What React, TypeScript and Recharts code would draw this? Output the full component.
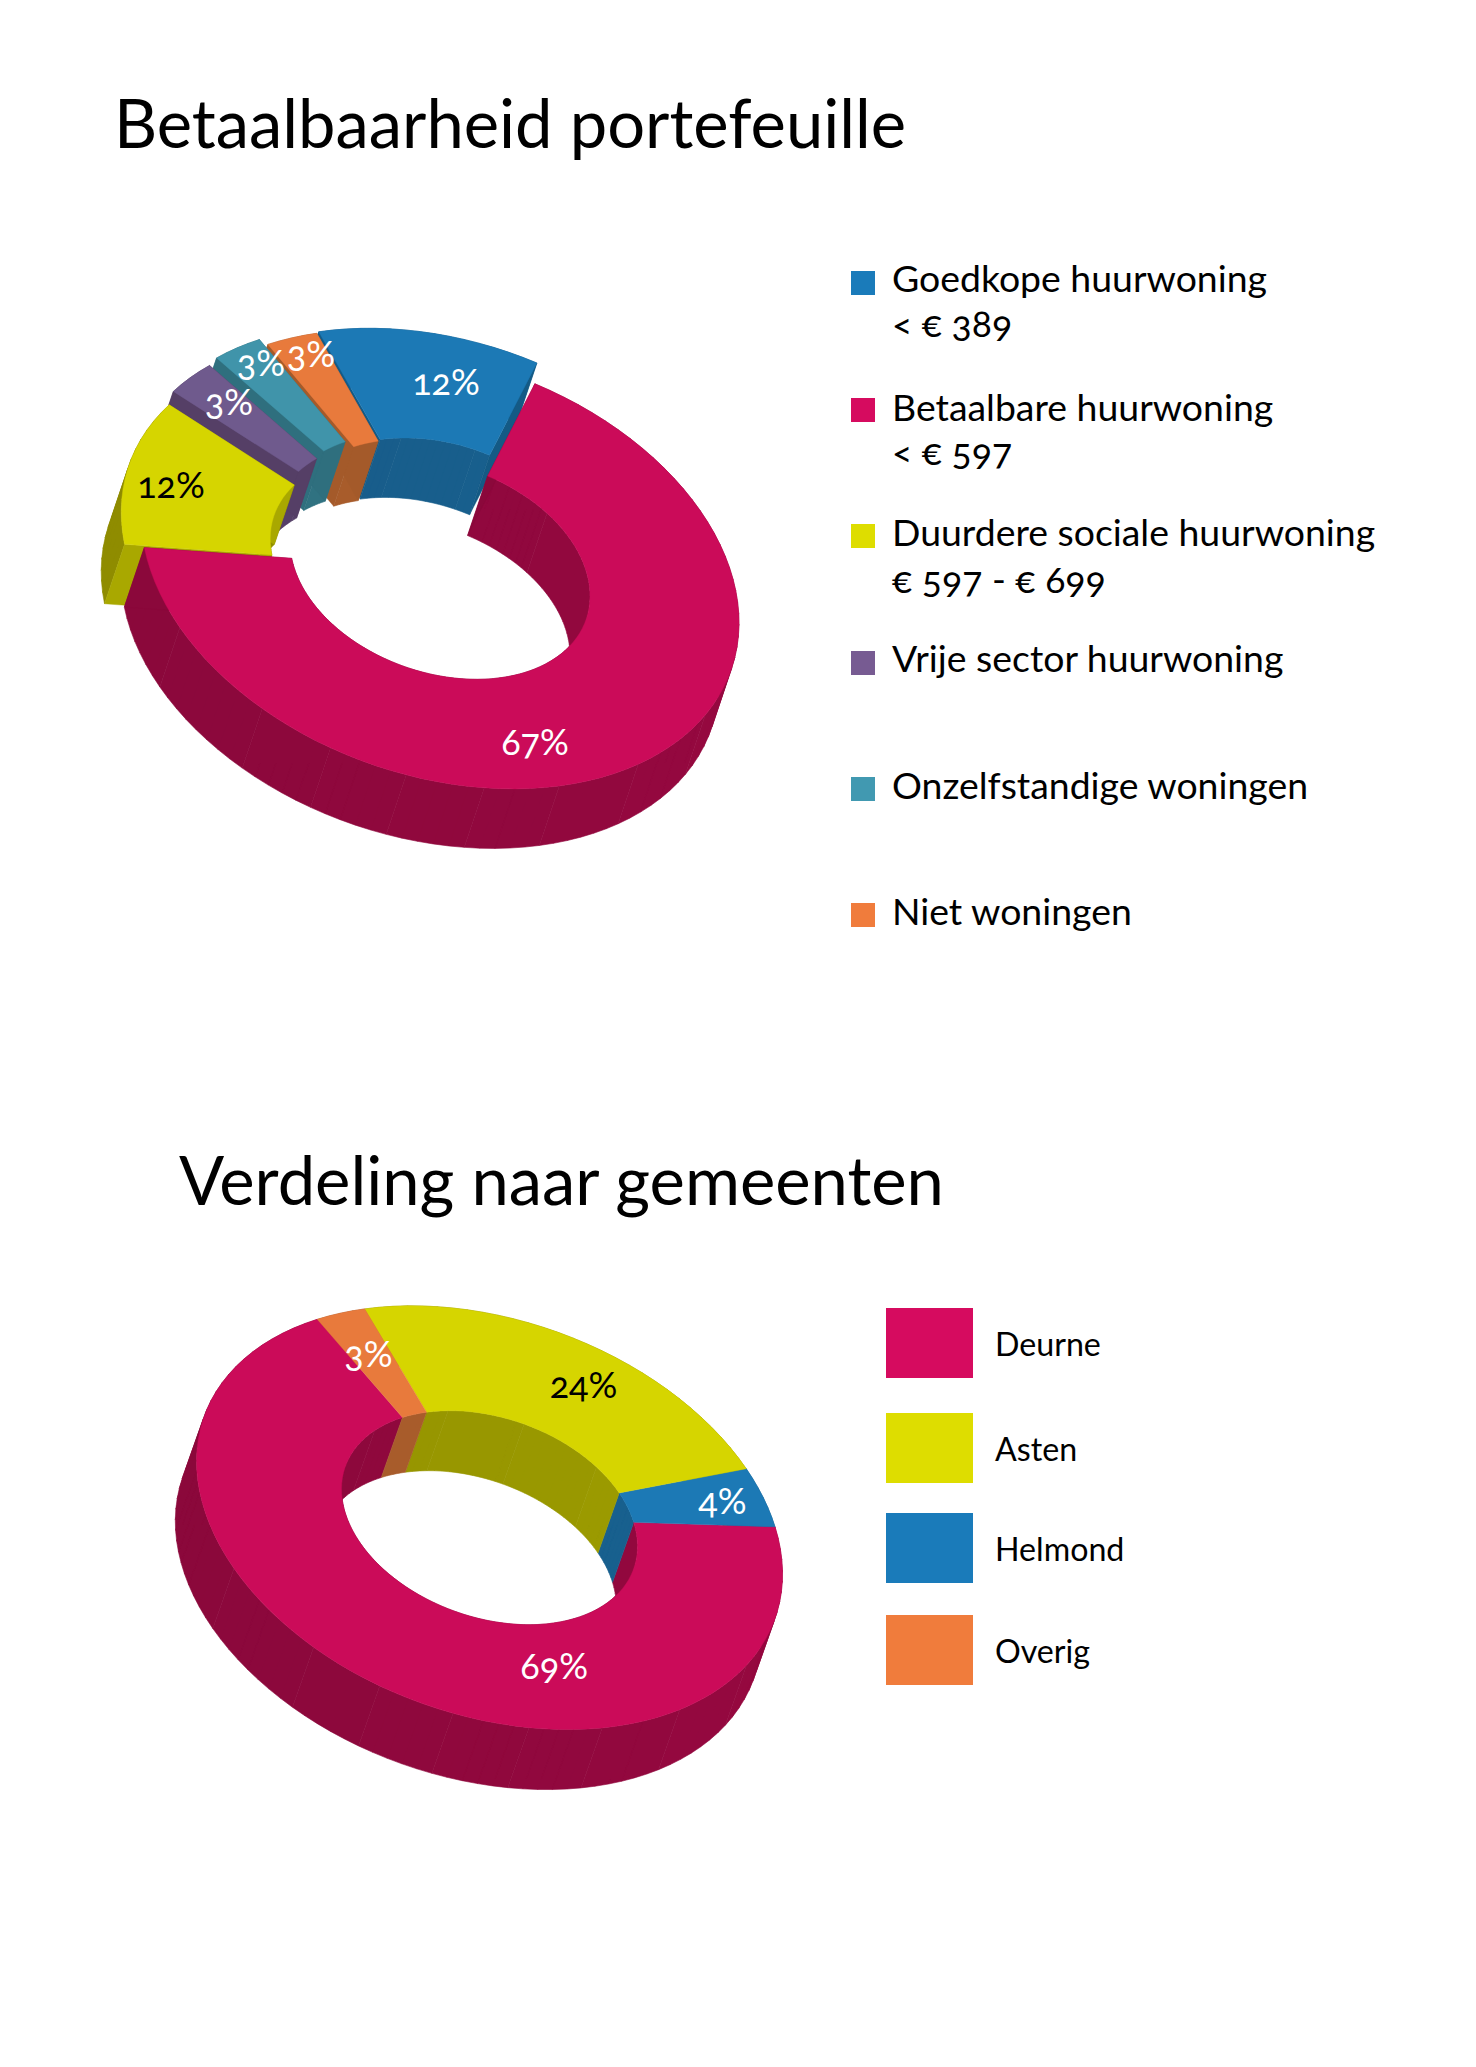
import { PieChart, Pie } from "recharts";

const FONT = "Lato, sans-serif";

// first chart, counter clockwise from the top right so that later slices paint over earlier ones
const portfolioNames = ["Goedkope huurwoning", "Niet woningen", "Onzelfstandige woningen", "Vrije sector huurwoning", "Duurdere sociale huurwoning", "Betaalbare huurwoning"];
const portfolioValues = [11.9, 3, 3, 3.1, 11.51, 67.49];
const portfolioTop = ["#1c79b5", "#e87a3c", "#4094aa", "#6f5a8d", "#d6d500", "#cb0b59"];
const portfolioWall = ["#175b87", "#a45a2a", "#2f6f7e", "#553f66", "#8f8c00", "#8b083b"];
const portfolioSide = ["#145a85", "#a45a2a", "#2f6f7e", "#553f66", "#a9a800", "#8b083b"];
const portfolioLabel = ["#fff", "#fff", "#fff", "#fff", "#000", "#fff"];
const portfolioShift = [[2, -20.8], [0, -19.3], [-8.5, -24.2], [-15.6, -16.7], [-19.8, -3.3], [0, 0]];
const portfolioLabelAt = [[6, -188], [-129, -216.5], [-179, -207], [-211, -168], [-269, -85], [95, 172]];

const cityNames = ["Deurne", "Helmond", "Asten", "Overig"];
const cityValues = [68.6, 4.4, 24, 3];
const cityTop = ["#cb0b59", "#1c79b5", "#d6d500", "#e87a3c"];
const cityWall = ["#8b083b", "#175b87", "#939200", "#a45a2a"];
const cityLabel = ["#fff", "#fff", "#000", "#fff"];
const cityLabelAt = [[64.7, 147], [233, -18], [94, -134], [-121, -164.5]];

const legendOne = [
  { lines: ["Goedkope huurwoning", "< € 389"], color: "#1a7bba", box: 271, base: [292.6, 337.4] },
  { lines: ["Betaalbare huurwoning", "< € 597"], color: "#d60b5f", box: 398, base: [421.3, 465] },
  { lines: ["Duurdere sociale huurwoning", "€ 597 - € 699"], color: "#dedd00", box: 524.4, base: [546, 593] },
  { lines: ["Vrije sector huurwoning"], color: "#775b92", box: 651, base: [672] },
  { lines: ["Onzelfstandige woningen"], color: "#4199b1", box: 777, base: [799] },
  { lines: ["Niet woningen"], color: "#f07c3c", box: 903.3, base: [925] },
];
const legendTwo = [
  { name: "Deurne", color: "#d60b5f", box: 1308, base: 1356 },
  { name: "Asten", color: "#dedd00", box: 1413, base: 1461 },
  { name: "Helmond", color: "#1a7bba", box: 1513, base: 1561 },
  { name: "Overig", color: "#f07c3c", box: 1615, base: 1663 },
];

const RAD = Math.PI / 180;
const LEVELS = 8;

function mix(a: string, t: number) {
  // small shift towards lighter on the right side of the ring, in a few flat facets
  const n = parseInt(a.slice(1), 16);
  const f = 1 + 0.07 * t;
  const c = (v: number) => Math.min(255, Math.round(v * f));
  return `rgb(${c((n >> 16) & 255)},${c((n >> 8) & 255)},${c(n & 255)})`;
}

function solid(p: any, geo: any, part: "walls" | "top" | "both") {
  const [sx, sy] = geo.shift ? geo.shift[p.name] : [0, 0];
  const at = (a: number, r: number) => {
    const x = r * Math.cos(-a * RAD);
    const y = r * Math.sin(-a * RAD);
    return [p.cx + sx + x, p.cy + sy + x * geo.shear + y * geo.squash, x / p.outerRadius];
  };
  const steps = Math.max(2, Math.ceil(Math.abs(p.endAngle - p.startAngle) / 3));
  const angles = Array.from({ length: steps + 1 }, (_, i) => p.startAngle + ((p.endAngle - p.startAngle) * i) / steps);
  const d = (pt: number[]) => [pt[0] + geo.depth[0], pt[1] + geo.depth[1]];
  const poly = (pts: number[][]) => "M" + pts.map((q) => `${q[0].toFixed(2)},${q[1].toFixed(2)}`).join("L") + "Z";
  // quads of one path all wind the same way, so they add up under the nonzero rule
  const quad = (a: number[], b: number[]) => {
    const [da, db] = [d(a), d(b)];
    const area = (b[0] - a[0]) * (da[1] - a[1]) - (b[1] - a[1]) * (da[0] - a[0]);
    return poly(area > 0 ? [a, b, db, da] : [a, da, db, b]);
  };
  const out: any[] = [];
  if (part !== "top") {
    [p.outerRadius, p.innerRadius].forEach((r, ri) => {
      const bands: Record<number, string> = {};
      for (let i = 0; i < steps; i++) {
        const a = at(angles[i], r);
        const b = at(angles[i + 1], r);
        const lv = Math.round(((a[2] + 1) / 2) * LEVELS);
        bands[lv] = (bands[lv] || "") + quad(a, b);
      }
      Object.keys(bands).forEach((lv) => {
        const col = mix(p.wall, Number(lv) / LEVELS);
        out.push(<path key={`w${ri}-${lv}`} d={bands[Number(lv)]} fill={col} stroke={col} strokeWidth={0.6} />);
      });
    });
    if (geo.sides) {
      [p.startAngle, p.endAngle].forEach((a, i) => {
        const u = at(a, p.innerRadius);
        const v = at(a, p.outerRadius);
        out.push(<path key={`s${i}`} d={quad(u, v)} fill={p.side} stroke={p.side} strokeWidth={0.4} />);
      });
    }
  }
  if (part !== "walls") {
    const ring = [...angles.map((a) => at(a, p.outerRadius)), ...angles.slice().reverse().map((a) => at(a, p.innerRadius))];
    out.push(<path key="top" d={poly(ring)} fill={p.fill} stroke={p.fill} strokeWidth={0.4} />);
  }
  return <g>{out}</g>;
}

const portfolioData = portfolioNames.map((name, i) => ({
  name,
  value: portfolioValues[i],
  fill: portfolioTop[i],
  wall: portfolioWall[i],
  side: portfolioSide[i],
}));
const cityData = cityNames.map((name, i) => ({ name, value: cityValues[i], fill: cityTop[i], wall: cityWall[i] }));

const portfolioGeo = {
  shear: 0.1794,
  squash: 0.7133,
  depth: [-20, 59.5],
  sides: true,
  shift: Object.fromEntries(portfolioNames.map((n, i) => [n, portfolioShift[i]])),
};
const cityGeo = { shear: 0.1925, squash: 0.697, depth: [-21.2, 60], sides: false };

function percentLabel(colors: string[], spots: number[][]) {
  return (p: any) => (
    <text
      x={p.cx + spots[p.index][0]}
      y={p.cy + spots[p.index][1]}
      fill={colors[p.index]}
      fontFamily={FONT}
      fontSize={36}
      textAnchor="middle"
      dominantBaseline="central"
      style={{ fontFeatureSettings: '"onum"' }}
    >
      {Math.round(p.value)}%
    </text>
  );
}

// base is the text baseline in page pixels
const textStyle = (base: number, left: number, size: number): React.CSSProperties => ({
  position: "absolute",
  left,
  top: base - 0.387 * size,
  fontFamily: FONT,
  fontSize: size,
  lineHeight: 0,
  whiteSpace: "nowrap",
  color: "#000",
  fontFeatureSettings: '"onum"',
});

export default function App() {
  return (
    <div style={{ position: "absolute", left: 0, top: 0, width: 1476, height: 2067, background: "#fff", overflow: "hidden" }}>
      <div style={textStyle(148, 114, 66.9)}>Betaalbaarheid portefeuille</div>
      <div style={textStyle(1205, 179, 66.9)}>Verdeling naar gemeenten</div>

      <div style={{ position: "absolute", left: 60, top: 280 }}>
        <PieChart width={720} height={620}>
          <Pie
            data={portfolioData}
            dataKey="value"
            nameKey="name"
            cx={375}
            cy={284}
            outerRadius={299}
            innerRadius={150}
            startAngle={71.5}
            endAngle={431.5}
            stroke="none"
            isAnimationActive={false}
            shape={(p: any) => solid(p, portfolioGeo, "both")}
            labelLine={false}
            label={percentLabel(portfolioLabel, portfolioLabelAt)}
          />
        </PieChart>
      </div>

      <div style={{ position: "absolute", left: 120, top: 1240 }}>
        <PieChart width={720} height={620}>
          <Pie
            data={cityData}
            dataKey="value"
            nameKey="name"
            cx={364.5}
            cy={272.7}
            outerRadius={293}
            innerRadius={148}
            startAngle={126}
            endAngle={486}
            stroke="none"
            isAnimationActive={false}
            shape={(p: any) => solid(p, cityGeo, "walls")}
          />
          <Pie
            data={cityData}
            dataKey="value"
            nameKey="name"
            cx={364.5}
            cy={272.7}
            outerRadius={293}
            innerRadius={148}
            startAngle={126}
            endAngle={486}
            stroke="none"
            isAnimationActive={false}
            shape={(p: any) => solid(p, cityGeo, "top")}
            labelLine={false}
            label={percentLabel(cityLabel, cityLabelAt)}
          />
        </PieChart>
      </div>

      {legendOne.map((item) => (
        <div key={item.lines[0]}>
          <div style={{ position: "absolute", left: 851, top: item.box, width: 23.5, height: 23.8, background: item.color }} />
          {item.lines.map((line, i) => (
            <div key={line} style={textStyle(item.base[i], 892, 37.4)}>
              {line}
            </div>
          ))}
        </div>
      ))}

      {legendTwo.map((item) => (
        <div key={item.name}>
          <div style={{ position: "absolute", left: 885.5, top: item.box, width: 87, height: 69.5, background: item.color }} />
          <div style={textStyle(item.base, 995, 32.2)}>{item.name}</div>
        </div>
      ))}
    </div>
  );
}
